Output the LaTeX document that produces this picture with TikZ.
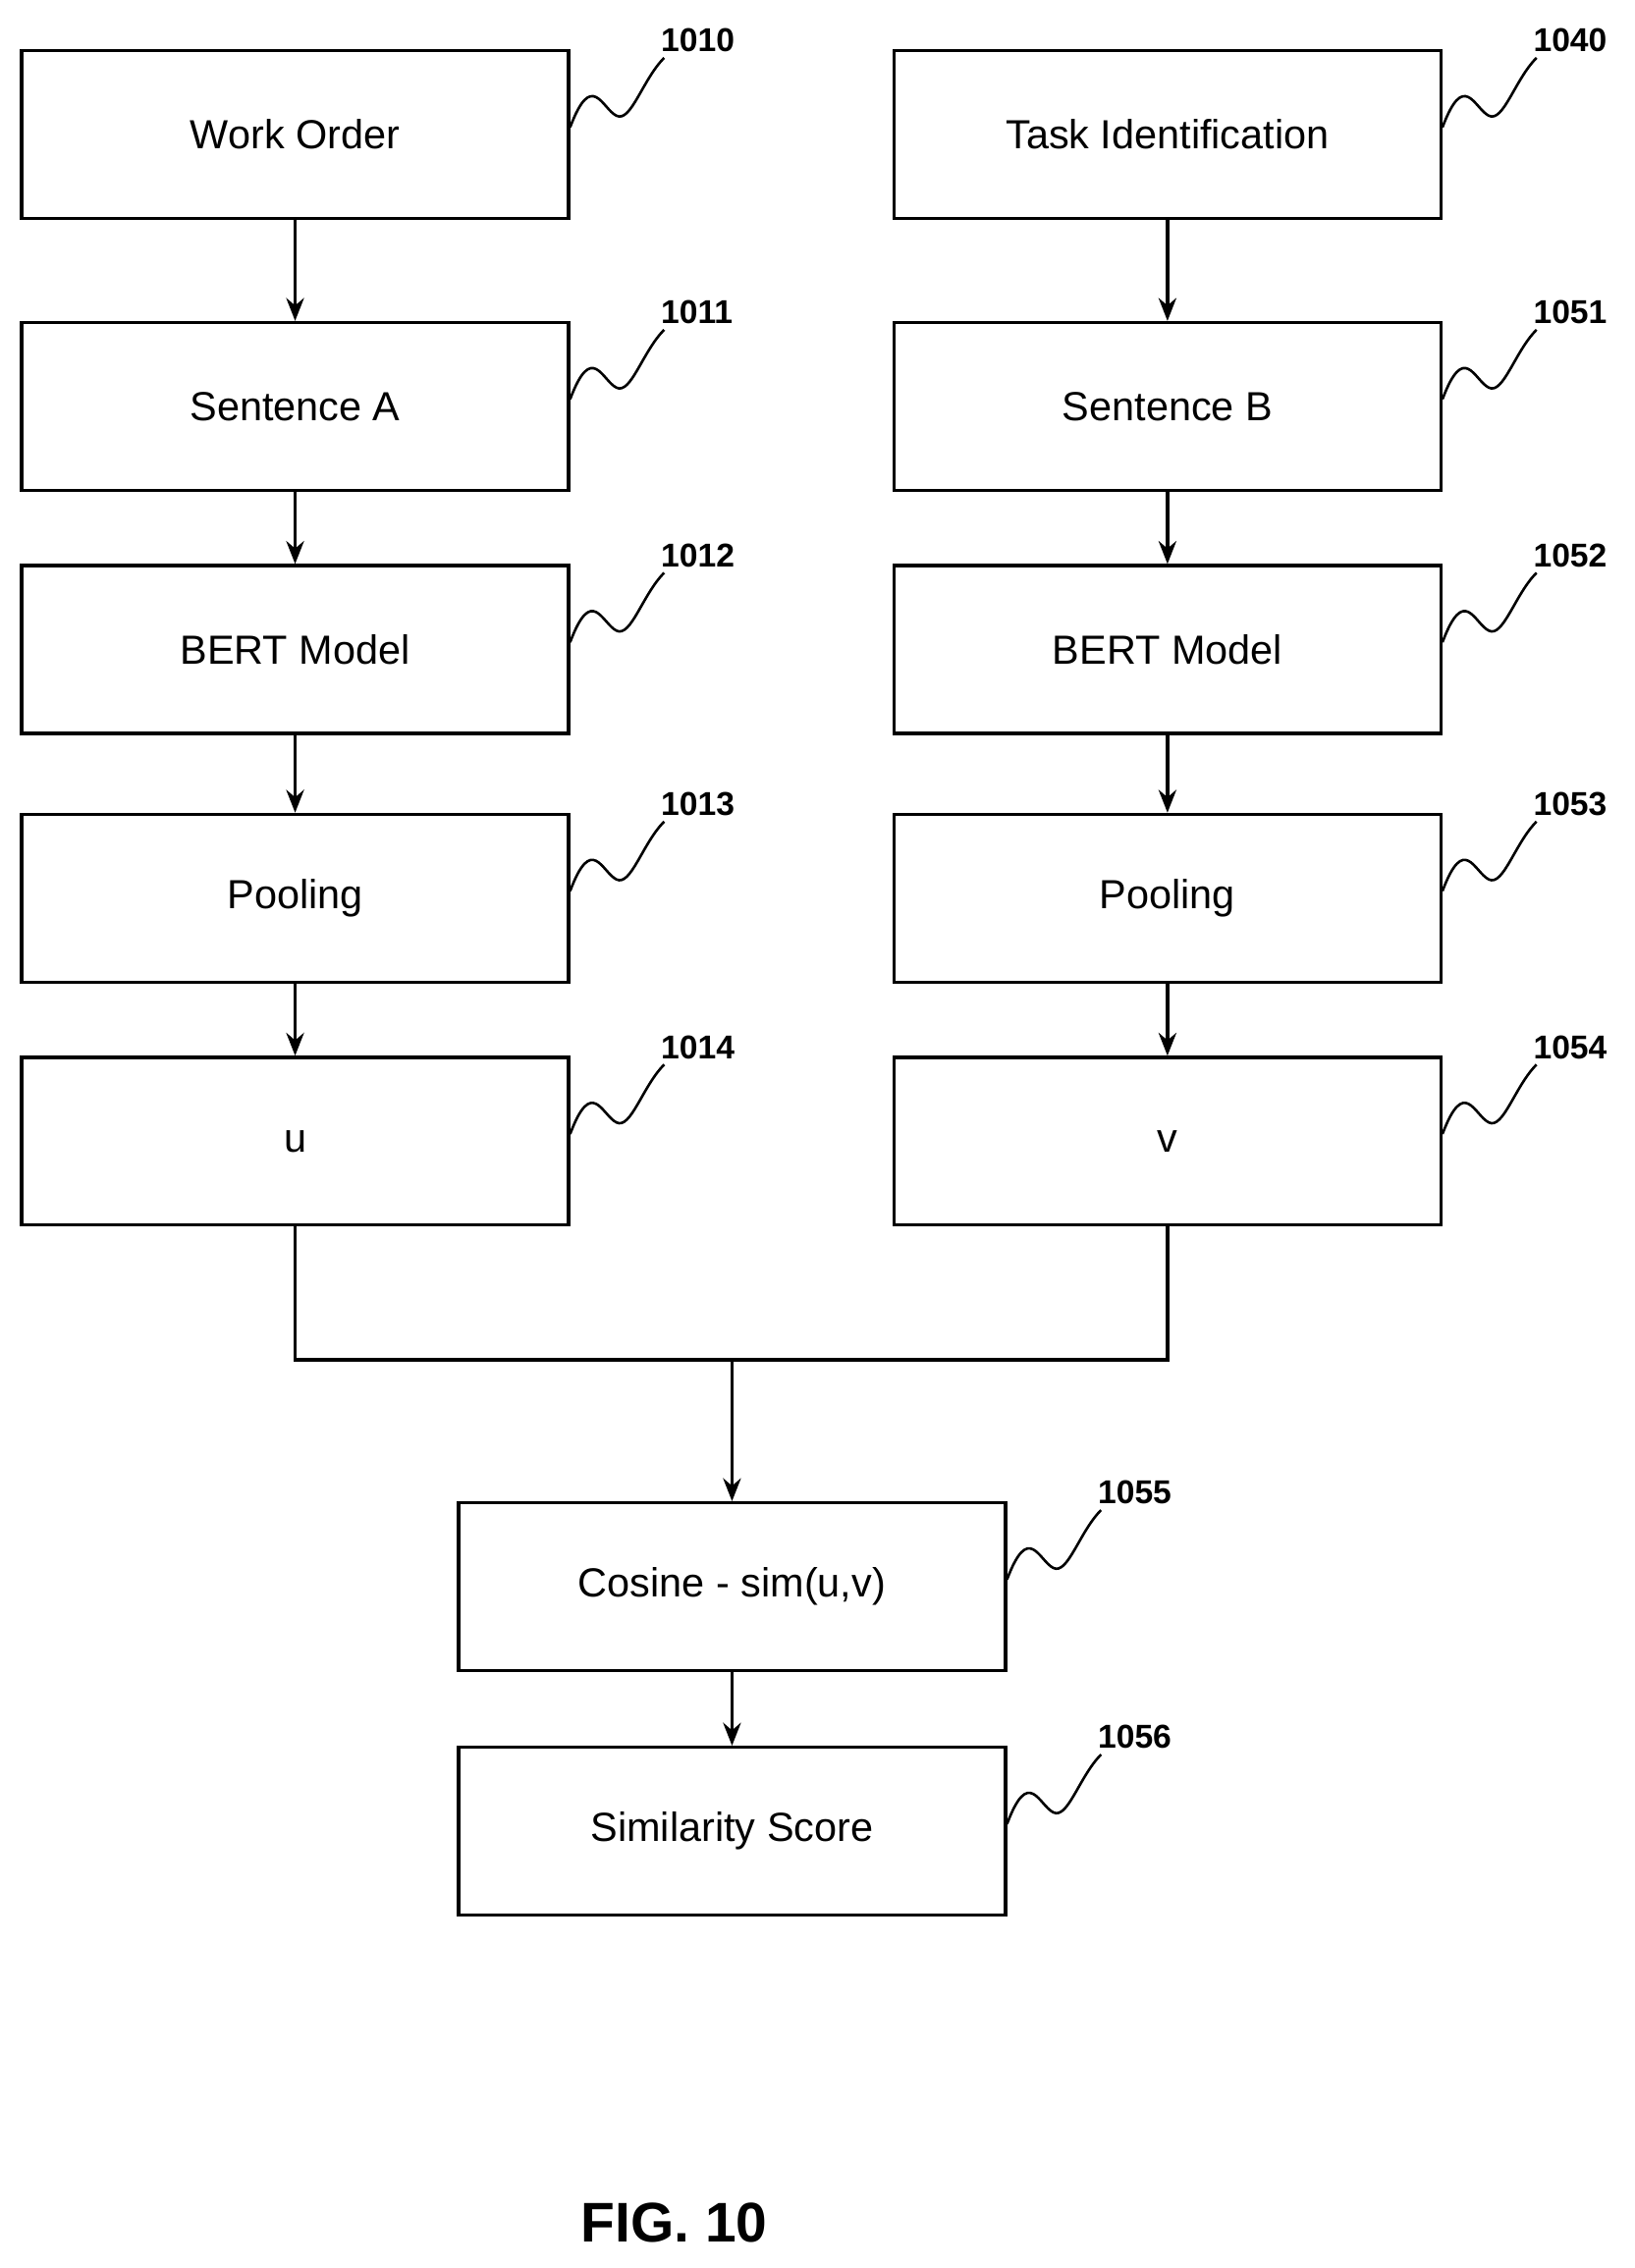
\documentclass[tikz,border=0pt]{standalone}
\usepackage{fontspec}
\setmainfont{Liberation Sans}
\usetikzlibrary{arrows.meta}
\tikzstyle{boxed}=[rectangle, draw=black, line width=1.3pt, minimum width=7.56cm, minimum height=2.32cm, font=\fontsize{16}{19}\selectfont]
\tikzstyle{refnum}=[font=\bfseries\fontsize{13}{15}\selectfont, inner sep=0pt]
\tikzstyle{flow}=[line width=1.3pt, -{Stealth[length=9pt,width=7pt]}]

\begin{document}
\begin{tikzpicture}[x=0.02cm, y=-0.02cm]
    \useasboundingbox (0,0) rectangle (1130,1568);

    \node[boxed] (order) at (204,93) {Work Order};
    \node[boxed] (sentA) at (204,281) {Sentence A};
    \node[boxed] (bertA) at (204,449) {BERT Model};
    \node[boxed] (poolA) at (204,621) {Pooling};
    \node[boxed] (u) at (204,789) {u};

    \node[boxed] (task) at (807,93) {Task Identification};
    \node[boxed] (sentB) at (807,281) {Sentence B};
    \node[boxed] (bertB) at (807,449) {BERT Model};
    \node[boxed] (poolB) at (807,621) {Pooling};
    \node[boxed] (v) at (807,789) {v};

    \node[boxed] (cosine) at (506,1097) {Cosine - sim(u,v)};
    \node[boxed] (score) at (506,1266) {Similarity Score};

    \draw[flow] (order) -- (sentA);
    \draw[flow] (sentA) -- (bertA);
    \draw[flow] (bertA) -- (poolA);
    \draw[flow] (poolA) -- (u);
    \draw[flow] (task) -- (sentB);
    \draw[flow] (sentB) -- (bertB);
    \draw[flow] (bertB) -- (poolB);
    \draw[flow] (poolB) -- (v);

    \coordinate (join) at (506,940);
    \draw[line width=1.3pt] (u.south) |- (join) -| (v.south);
    \draw[flow] (join) -- (cosine);
    \draw[flow] (cosine) -- (score);

    % reference numerals
    \foreach \blk/\num in {order/1010, sentA/1011, bertA/1012, poolA/1013, u/1014,
                           task/1040, sentB/1051, bertB/1052, poolB/1053, v/1054,
                           cosine/1055, score/1056}{
        \draw[line width=1pt] ([yshift=0.1cm]\blk.east) .. controls ++(15,-40) and ++(-10,-5) .. ++(32,-8)
            .. controls ++(10,5) and ++(-15,15) .. ++(33,-40);
        \node[refnum, anchor=south west] (n\num) at ([xshift=1.25cm,yshift=-0.05cm]\blk.north east) {\num};
    }

    \node[font=\bfseries\fontsize{22}{26}\selectfont] (fig) at (466,1537) {FIG. 10};
\end{tikzpicture}
\end{document}
